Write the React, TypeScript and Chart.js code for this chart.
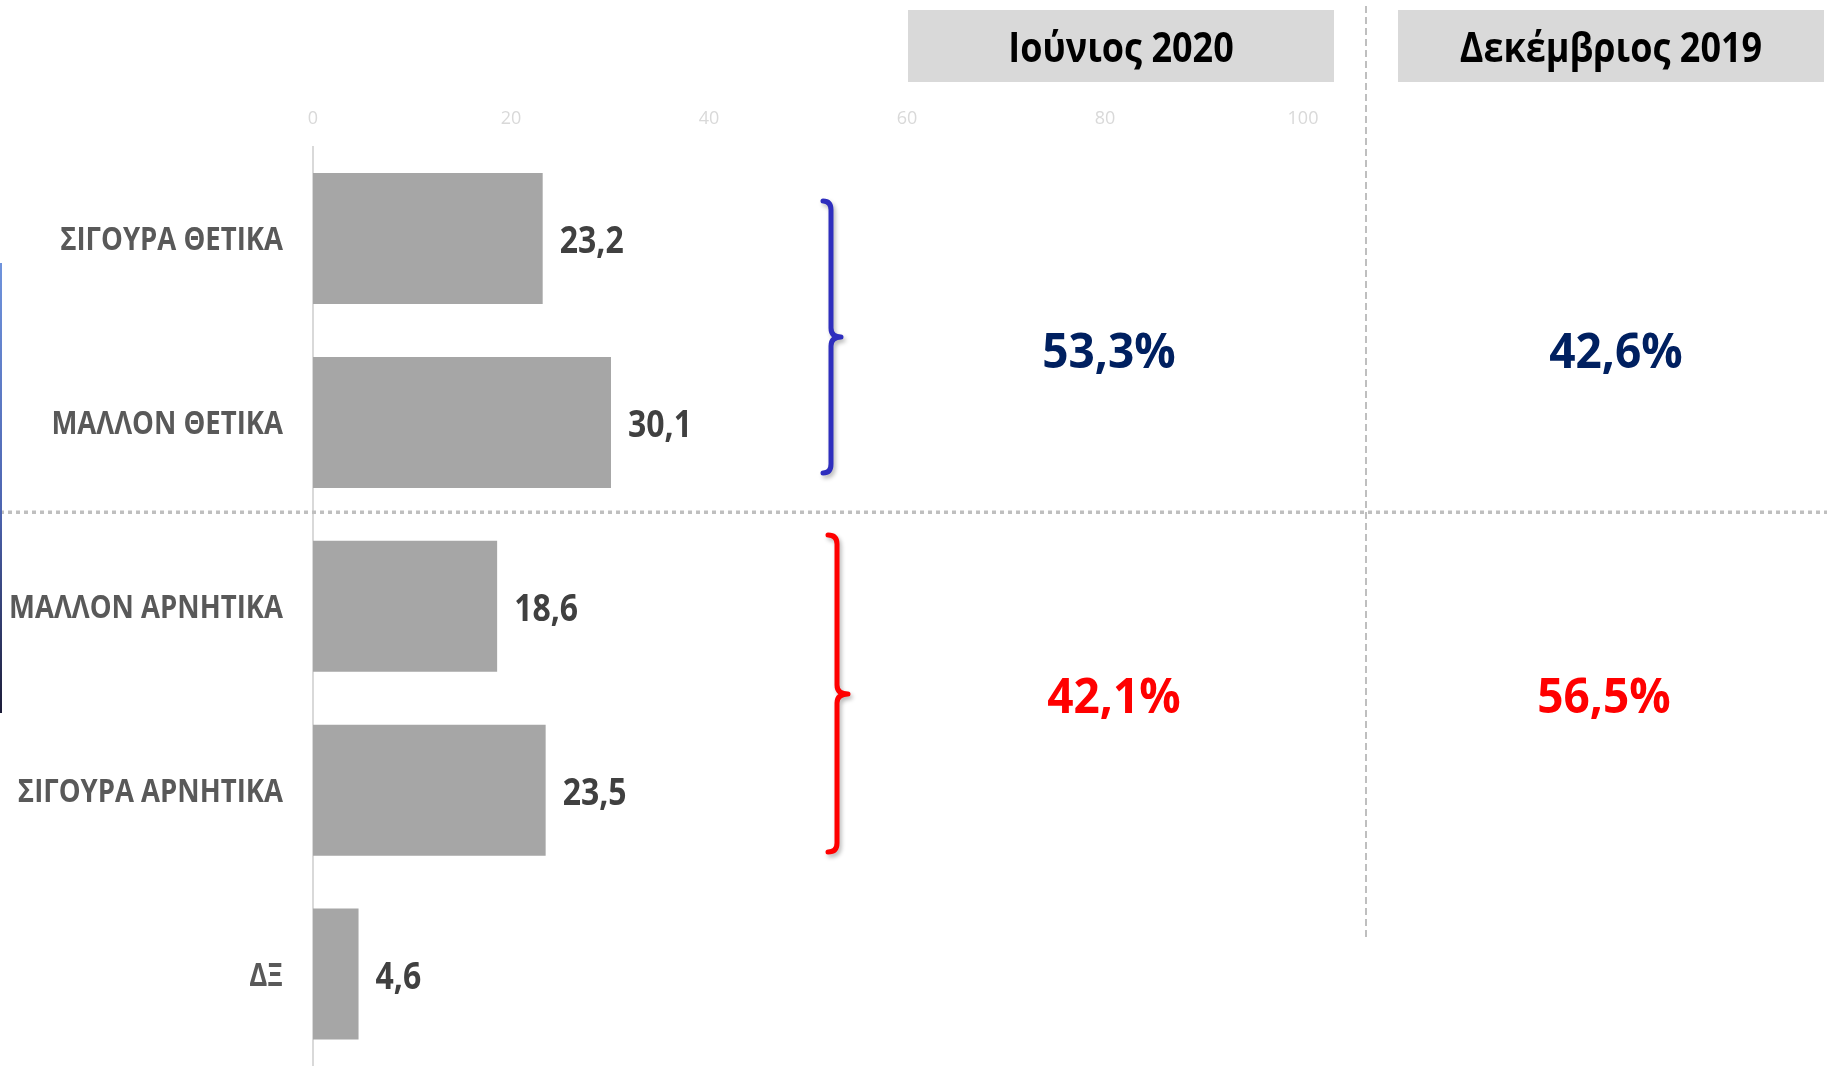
import React, { useEffect, useRef } from 'react';
import { Chart, registerables } from 'chart.js';

Chart.register(...registerables);

// ---- data ----
const categories = ['ΣΙΓΟΥΡΑ ΘΕΤΙΚΑ', 'ΜΑΛΛΟΝ ΘΕΤΙΚΑ', 'ΜΑΛΛΟΝ ΑΡΝΗΤΙΚΑ', 'ΣΙΓΟΥΡΑ ΑΡΝΗΤΙΚΑ', 'ΔΞ'];
const values = [23.2, 30.1, 18.6, 23.5, 4.6];
const xTicks = [0, 20, 40, 60, 80, 100];
const periods = ['Ιούνιος 2020', 'Δεκέμβριος 2019'];
const positiveTotals = [53.3, 42.6];
const negativeTotals = [42.1, 56.5];

const W = 1827;
const H = 1066;
const FONT = '"Open Sans", "Noto Sans", sans-serif';

const fmt = (v: number) => v.toFixed(1).replace('.', ',');

function drawText(
  ctx: CanvasRenderingContext2D,
  text: string,
  x: number,
  yCenter: number,
  size: number,
  color: string,
  align: CanvasTextAlign,
  sy: number,
  weight = 'bold'
) {
  ctx.save();
  const capH = 0.714 * size * sy;
  ctx.translate(x, yCenter + capH / 2);
  ctx.scale(1, sy);
  ctx.font = `${weight} ${size}px ${FONT}`;
  ctx.fillStyle = color;
  ctx.textAlign = align;
  ctx.textBaseline = 'alphabetic';
  ctx.fillText(text, 0, 0);
  ctx.restore();
}

function drawBrace(
  ctx: CanvasRenderingContext2D,
  x0: number,
  xL: number,
  xT: number,
  yTop: number,
  yMid: number,
  yBot: number,
  color: string
) {
  const r = 9;
  ctx.save();
  ctx.strokeStyle = color;
  ctx.lineWidth = 5;
  ctx.lineCap = 'round';
  ctx.lineJoin = 'round';
  ctx.shadowColor = 'rgba(0,0,0,0.28)';
  ctx.shadowBlur = 4;
  ctx.shadowOffsetX = 2;
  ctx.shadowOffsetY = 3;
  ctx.beginPath();
  ctx.moveTo(x0, yTop);
  ctx.quadraticCurveTo(xL, yTop, xL, yTop + r);
  ctx.lineTo(xL, yMid - r);
  ctx.quadraticCurveTo(xL, yMid, xT, yMid);
  ctx.quadraticCurveTo(xL, yMid, xL, yMid + r);
  ctx.lineTo(xL, yBot - r);
  ctx.quadraticCurveTo(xL, yBot, x0, yBot);
  ctx.stroke();
  ctx.restore();
}

const decorPlugin = {
  id: 'decor',
  beforeDraw(chart: any) {
    const ctx: CanvasRenderingContext2D = chart.ctx;
    ctx.save();
    ctx.fillStyle = '#ffffff';
    ctx.fillRect(0, 0, W, H);
    ctx.restore();
  },
  afterDraw(chart: any) {
    const ctx: CanvasRenderingContext2D = chart.ctx;
    const xs = chart.scales.x;
    const ys = chart.scales.y;
    const area = chart.chartArea;

    // horizontal dotted separator between positive & negative groups
    const sepY = (ys.getPixelForValue(1) + ys.getPixelForValue(2)) / 2 - 2;
    ctx.save();
    ctx.strokeStyle = '#bfbfbf';
    ctx.lineWidth = 3.5;
    ctx.setLineDash([4, 4]);
    ctx.beginPath();
    ctx.moveTo(0, sepY);
    ctx.lineTo(W, sepY);
    ctx.stroke();
    ctx.restore();

    // vertical dashed separator between the two periods
    ctx.save();
    ctx.strokeStyle = '#bfbfbf';
    ctx.lineWidth = 2;
    ctx.setLineDash([7, 4]);
    ctx.beginPath();
    ctx.moveTo(1366, 6);
    ctx.lineTo(1366, 938);
    ctx.stroke();
    ctx.restore();

    // left-edge gradient line
    ctx.save();
    const g = ctx.createLinearGradient(0, 263, 0, 713);
    g.addColorStop(0, '#6f93dc');
    g.addColorStop(0.55, '#4d64b0');
    g.addColorStop(1, '#1c1c38');
    ctx.fillStyle = g;
    ctx.fillRect(0, 263, 2, 450);
    ctx.restore();

    // category labels and value labels
    categories.forEach((c, i) => {
      const y = ys.getPixelForValue(i);
      drawText(ctx, c, area.left - 30, y, 27.5, '#595959', 'right', 1.18);
      const xEnd = xs.getPixelForValue(values[i]);
      drawText(ctx, fmt(values[i]), xEnd + 17, y + 1, 32, '#404040', 'left', 1.2);
    });

    // header boxes
    const boxes = [
      { x: 908, w: 426 },
      { x: 1398, w: 426 },
    ];
    periods.forEach((p, i) => {
      const b = boxes[i];
      ctx.save();
      ctx.fillStyle = '#d9d9d9';
      ctx.fillRect(b.x, 10, b.w, 72);
      ctx.restore();
      drawText(ctx, p, b.x + b.w / 2, 47, 36, '#000000', 'center', 1.15);
    });

    // braces
    drawBrace(ctx, 823, 831, 841, 201, 337, 473, '#2e2ebe');
    drawBrace(ctx, 828, 837, 848, 535, 694, 852, '#ff0000');

    // totals
    const posX = [1109, 1616];
    const negX = [1114, 1604];
    positiveTotals.forEach((v, i) => {
      drawText(ctx, fmt(v) + '%', posX[i], 351, 46, '#002060', 'center', 1.06);
    });
    negativeTotals.forEach((v, i) => {
      drawText(ctx, fmt(v) + '%', negX[i], 696, 46, '#ff0000', 'center', 1.06);
    });
  },
};

export default function App() {
  const ref = useRef<HTMLCanvasElement | null>(null);

  useEffect(() => {
    document.body.style.margin = '0';
    const canvas = ref.current;
    if (!canvas) return;
    const chart = new Chart(canvas, {
      type: 'bar',
      data: {
        labels: categories,
        datasets: [
          {
            data: values,
            backgroundColor: '#a6a6a6',
            borderWidth: 0,
            barPercentage: 0.712,
            categoryPercentage: 1,
          },
        ],
      },
      options: {
        indexAxis: 'y',
        responsive: false,
        animation: false,
        devicePixelRatio: 1,
        layout: { padding: { left: 313, right: 524, top: 91, bottom: 0 } },
        plugins: {
          legend: { display: false },
          tooltip: { enabled: false },
          title: { display: false },
        },
        scales: {
          x: {
            type: 'linear',
            position: 'top',
            min: 0,
            max: 100,
            afterBuildTicks: (s: any) => {
              s.ticks = xTicks.map((v) => ({ value: v }));
            },
            ticks: {
              color: '#d9d9d9',
              font: { family: FONT, size: 18 },
              padding: 17,
            },
            grid: { display: false, drawTicks: false, tickLength: 0 },
            border: { display: false },
          },
          y: {
            type: 'category',
            ticks: { display: false },
            grid: { display: false, drawTicks: false, tickLength: 0 },
            border: { display: true, color: '#d9d9d9', width: 2 },
          },
        },
      },
      plugins: [decorPlugin],
    } as any);
    return () => chart.destroy();
  }, []);

  return <canvas ref={ref} width={W} height={H} style={{ display: 'block' }} />;
}
